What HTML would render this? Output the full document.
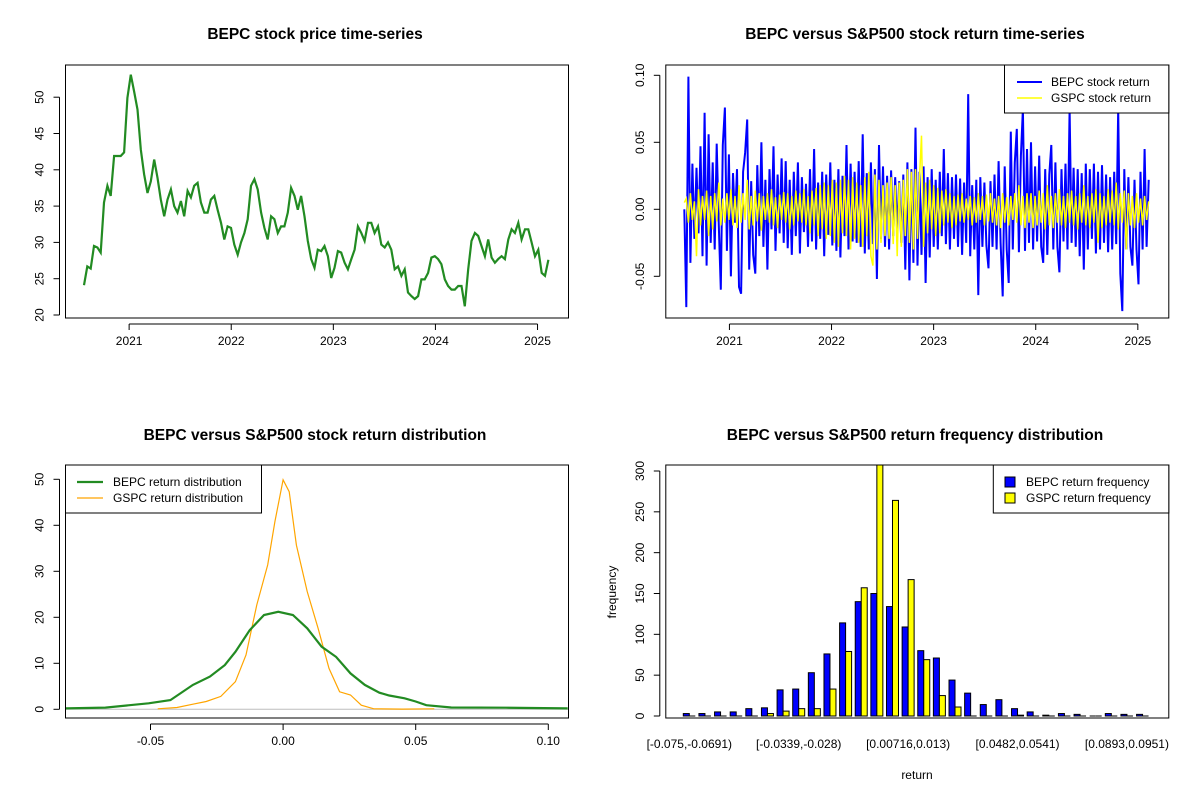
<!DOCTYPE html>
<html><head><meta charset="utf-8"><style>
html,body{margin:0;padding:0;background:#fff;}
svg text{font-family:"Liberation Sans",Arial,sans-serif;fill:#000;}
.t{font-size:15.5px;font-weight:bold;}
.k{font-size:12px;}
</style></head><body>
<svg id="c" width="1200" height="800" xmlns="http://www.w3.org/2000/svg">
<defs>
<clipPath id="cp1"><rect x="65.5" y="65" width="503" height="253"/></clipPath>
<clipPath id="cp2"><rect x="665.8" y="65" width="503" height="253"/></clipPath>
<clipPath id="cp3"><rect x="65.5" y="465" width="503" height="253"/></clipPath>
<clipPath id="cp4"><rect x="665.8" y="465" width="503" height="253"/></clipPath>
</defs>
</svg>
<script>
// ---- Panel 1: price ----
const priceStart = 2020.558, priceEnd = 2025.106;
const prices = [24.1,26.7,26.4,29.5,29.3,28.6,35.5,37.8,36.4,41.9,41.9,41.9,42.4,49.9,53.1,50.8,48.3,42.8,39.4,36.8,38.4,41.4,38.9,35.9,33.6,35.9,37.3,35.0,34.1,35.7,33.6,37.1,36.2,37.8,38.2,35.5,34.1,34.1,35.9,36.4,34.5,32.7,30.4,32.2,32.0,29.7,28.3,30.0,31.3,33.2,37.8,38.7,37.3,34.1,32.0,30.4,33.6,33.2,31.3,32.2,32.2,34.1,37.5,36.4,34.5,36.4,33.6,30.2,27.7,26.5,29.0,28.8,29.5,28.1,25.1,26.5,28.8,28.6,27.2,26.3,27.7,29.0,32.2,31.3,30.2,32.7,32.7,31.3,32.2,29.7,29.3,30.0,29.0,26.3,26.7,25.4,26.3,23.1,22.6,22.2,22.6,24.9,24.9,25.8,27.9,28.1,27.7,27.0,24.9,24.0,23.5,23.5,24.0,24.0,21.2,26.3,30.2,31.3,30.9,29.5,28.1,30.4,27.9,27.2,27.7,28.1,27.7,30.4,31.8,31.3,32.7,30.4,31.8,31.8,30.0,28.1,29.0,25.8,25.4,27.6];
const priceTicks = [20,25,30,35,40,45,50];
const yearTicks = [2021,2022,2023,2024,2025];
// ---- Panel 2: returns ----
const bepcRet = [0.000,-0.073,0.099,-0.040,0.034,-0.022,0.031,-0.018,0.047,-0.035,
0.072,-0.042,0.056,-0.025,0.035,-0.030,0.049,-0.012,-0.060,0.048,
0.076,-0.031,0.041,-0.050,0.027,-0.010,0.030,-0.058,-0.063,0.028,
0.042,0.067,-0.045,0.021,-0.034,-0.048,0.033,-0.020,0.050,-0.028,
0.022,-0.045,0.030,-0.015,0.047,-0.031,0.026,-0.018,0.038,-0.025,
0.036,-0.029,0.022,-0.034,0.028,-0.020,0.035,-0.033,0.024,-0.017,
0.019,-0.028,0.030,-0.024,0.045,-0.030,0.020,-0.022,0.028,-0.035,
0.026,-0.019,0.035,-0.027,0.022,-0.031,0.030,-0.036,0.025,-0.020,
0.048,-0.030,0.034,-0.024,0.028,-0.025,0.036,-0.028,0.056,-0.033,
0.027,-0.030,0.035,-0.026,0.030,-0.052,0.048,-0.022,0.032,-0.028,
0.025,-0.030,0.029,-0.020,0.024,-0.018,0.021,-0.025,0.026,-0.045,
0.035,-0.053,0.030,-0.040,0.061,-0.042,0.028,-0.034,0.032,-0.055,
0.024,-0.036,0.030,-0.028,0.022,-0.030,0.028,-0.020,0.045,-0.026,
0.027,-0.030,0.024,-0.022,0.026,-0.028,0.023,-0.034,0.020,-0.025,
0.086,-0.035,0.018,-0.030,0.022,-0.064,0.024,-0.028,0.020,-0.027,
-0.044,0.021,-0.028,0.026,-0.030,0.036,-0.025,-0.065,0.032,-0.030,
-0.055,0.058,-0.030,0.035,0.060,-0.032,0.040,0.075,-0.031,0.045,
-0.025,0.050,-0.030,0.032,-0.024,0.040,-0.028,-0.040,0.030,-0.034,
0.026,0.048,-0.030,0.035,-0.028,-0.047,0.030,-0.024,0.034,-0.030,
0.075,-0.025,0.031,-0.028,0.030,-0.035,0.027,-0.045,0.034,-0.030,
0.030,-0.022,0.034,-0.033,0.028,-0.030,0.033,-0.025,0.026,-0.032,
0.024,-0.030,0.028,-0.026,0.075,-0.048,-0.076,0.030,-0.030,0.024,
-0.028,-0.042,0.022,-0.030,-0.056,0.028,-0.030,0.045,-0.028,0.022];
const gspcRet = [0.005,0.008,-0.010,0.012,-0.008,0.006,-0.035,0.015,-0.012,0.010,
-0.008,0.014,-0.020,0.010,-0.015,0.012,-0.009,0.020,-0.012,0.008,
-0.010,0.012,-0.008,0.015,-0.012,0.010,-0.014,0.018,-0.010,0.012,
-0.008,0.022,-0.015,0.010,-0.012,0.014,-0.009,0.012,-0.016,0.010,
-0.008,0.012,-0.010,0.015,-0.012,0.009,-0.014,0.011,-0.008,0.013,
-0.010,0.012,-0.015,0.010,-0.012,0.014,-0.009,0.012,-0.010,0.015,
-0.012,0.010,-0.018,0.014,-0.012,0.016,-0.020,0.018,-0.015,0.020,
-0.022,0.018,-0.020,0.022,-0.025,0.020,-0.028,0.022,-0.018,0.025,
-0.020,0.022,-0.030,0.024,-0.022,0.020,-0.025,0.018,-0.028,0.024,
-0.020,0.028,-0.035,-0.042,0.026,-0.030,0.022,-0.025,0.018,-0.020,
0.020,-0.022,0.024,-0.026,0.018,-0.035,0.020,-0.028,0.022,-0.020,
0.030,-0.025,0.028,-0.030,0.030,-0.022,0.024,0.055,-0.028,0.020,
-0.018,0.022,-0.015,0.018,-0.020,0.016,-0.018,0.014,-0.012,0.015,
-0.010,0.012,-0.014,0.010,-0.012,0.011,-0.009,0.012,-0.010,0.008,
-0.008,0.010,-0.012,0.009,-0.010,0.012,-0.008,0.010,-0.012,0.011,
-0.009,0.012,-0.010,0.008,-0.012,0.010,-0.014,0.012,-0.010,0.009,
-0.012,0.010,-0.008,0.012,-0.010,0.018,-0.012,0.010,-0.014,0.012,
-0.010,0.012,-0.014,0.010,-0.012,0.014,-0.010,0.012,-0.015,0.018,
-0.012,0.010,-0.014,0.012,-0.010,0.015,-0.012,0.010,-0.014,0.012,
-0.010,0.014,-0.012,0.010,-0.015,0.012,-0.010,0.018,-0.012,0.010,
-0.014,0.012,-0.010,0.015,-0.025,0.012,-0.014,0.010,-0.012,0.015,
-0.010,0.014,-0.012,0.020,-0.015,0.012,-0.010,0.014,-0.030,0.012,
-0.012,0.010,-0.014,0.012,-0.010,0.008,-0.012,0.010,-0.008,0.006];
const retTicks = [-0.05,0,0.05,0.10];
const retTickLabels = ["-0.05","0.00","0.05","0.10"];
// ---- Panel 3: densities ----
const bepcDensX = [-0.0823,-0.067,-0.0507,-0.0425,-0.034,-0.0276,-0.022,-0.018,-0.0126,-0.0072,-0.0018,0.0037,0.0091,0.0145,0.020,0.0254,0.0308,0.0363,0.040,0.0458,0.050,0.054,0.0634,0.084,0.1073];
const bepcDensY = [0.2,0.36,1.3,2.0,5.3,7.1,9.6,12.5,17.2,20.5,21.2,20.5,17.6,13.6,11.4,7.8,5.3,3.6,3.0,2.4,1.7,0.9,0.4,0.35,0.2];
const gspcDensX = [-0.0473,-0.040,-0.034,-0.029,-0.0235,-0.018,-0.014,-0.0099,-0.0058,-0.0031,0,0.0023,0.005,0.0091,0.0132,0.0173,0.0213,0.0254,0.0295,0.0342,0.045,0.057];
const gspcDensY = [0.1,0.4,1.1,1.7,2.8,6.0,11.8,22.7,31.4,40.8,49.9,47.3,35.7,25.6,17.6,8.9,3.8,3.1,0.9,0.1,0.05,0.1];
const densYTicks = [0,10,20,30,40,50];
const densXTicks = [-0.05,0,0.05,0.10];
const densXLabels = ["-0.05","0.00","0.05","0.10"];
// ---- Panel 4: histogram ----
const binLabels = ["[-0.075,-0.0691)","[-0.0339,-0.028)","[0.00716,0.013)","[0.0482,0.0541)","[0.0893,0.0951)"];
const binLabelIdx = [0,7,14,21,28];
const bepcFreq = [3,3,5,5,9,10,32,33,53,76,114,140,150,134,109,80,71,44,28,14,20,9,5,1,3,2,0,3,2,2];
const gspcFreq = [0,0,0,0,0,3,6,9,9,33,79,157,330,264,167,69,25,11,0,0,0,1,0,0,0,0,0,0,0,0];
const freqTicks = [0,50,100,150,200,250,300];

const NS = "http://www.w3.org/2000/svg";
const svg = document.getElementById('c');
function mk(tag, attrs, parent){const e=document.createElementNS(NS,tag);for(const k in attrs)e.setAttribute(k,attrs[k]);(parent||svg).appendChild(e);return e;}
function txt(s, x, y, cls, rot, anchor){const e=mk('text',{x:x,y:y,'class':cls,'text-anchor':anchor||'middle'});if(rot)e.setAttribute('transform','rotate(-90 '+x+' '+y+')');e.textContent=s;return e;}
function box(x0,y0,x1,y1,name){const r=mk('rect',{x:x0,y:y0,width:x1-x0,height:y1-y0,fill:'none',stroke:'#000','stroke-width':1});}
function yAxis(ticks, labels, fy, xl, name){const g=mk('g',{});
  mk('line',{x1:xl-6,x2:xl-6,y1:fy(ticks[0]),y2:fy(ticks[ticks.length-1]),stroke:'#000'},g);
  ticks.forEach((t,i)=>{const y=fy(t);mk('line',{x1:xl-6,x2:xl-12,y1:y,y2:y,stroke:'#000'},g);
    const e=txt(labels[i],xl-22,y,'k',true);g.appendChild(e);});}
function xAxis(ticks, labels, fx, yb, name){const g=mk('g',{});
  mk('line',{x1:fx(ticks[0]),x2:fx(ticks[ticks.length-1]),y1:yb+6,y2:yb+6,stroke:'#000'},g);
  ticks.forEach((t,i)=>{const x=fx(t);mk('line',{x1:x,x2:x,y1:yb+6,y2:yb+12,stroke:'#000'},g);
    const e=txt(labels[i],x,yb+27,'k');g.appendChild(e);});}

// Panel 1
const x1f = v => 84 + (v-priceStart)*102.1;
const y1f = v => 315 - (v-20)*7.26;
let t1=txt('BEPC stock price time-series',315,39,'t');


let d='';prices.forEach((p,i)=>{const yr=priceStart+i*(priceEnd-priceStart)/(prices.length-1);d+=(i?'L':'M')+x1f(yr).toFixed(1)+' '+y1f(p).toFixed(1);});
let pl=mk('path',{d:d,fill:'none',stroke:'#228B22','stroke-width':2.2,'clip-path':'url(#cp1)'});


box(65.5,65,568.5,318,'price-plot-frame');
yAxis(priceTicks,priceTicks.map(String),y1f,65.5,'price-y-axis');
xAxis(yearTicks,yearTicks.map(String),x1f,318,'price-x-axis');

// Panel 2
const x2f = v => 684.3 + (v-priceStart)*102.1;
const y2f = v => 209.3 - v*1340;
let t2=txt('BEPC versus S&P500 stock return time-series',915,39,'t');


function retPath(arr){let s='';arr.forEach((r,i)=>{const yr=priceStart+i*(priceEnd-priceStart)/(arr.length-1);s+=(i?'L':'M')+x2f(yr).toFixed(1)+' '+y2f(r).toFixed(1);});return s;}
let bl=mk('path',{d:retPath(bepcRet),fill:'none',stroke:'#0000FF','stroke-width':2,'clip-path':'url(#cp2)'});


let yl=mk('path',{d:retPath(gspcRet),fill:'none',stroke:'#FFFF00','stroke-width':1.5,'clip-path':'url(#cp2)'});


box(665.8,65,1168.8,318,'returns-plot-frame');
yAxis(retTicks,retTickLabels,y2f,665.8,'returns-y-axis');
xAxis(yearTicks,yearTicks.map(String),x2f,318,'returns-x-axis');
let lg2=mk('g',{});


mk('rect',{x:1004.5,y:65,width:164.3,height:48,fill:'#fff',stroke:'#000'},lg2);
mk('line',{x1:1017,x2:1042,y1:82,y2:82,stroke:'#0000FF','stroke-width':2},lg2);
mk('line',{x1:1017,x2:1042,y1:98,y2:98,stroke:'#FFFF00','stroke-width':1.5},lg2);
lg2.appendChild(txt('BEPC stock return',1051,86,'k',false,'start'));
lg2.appendChild(txt('GSPC stock return',1051,102,'k',false,'start'));

// Panel 3
const x3f = v => 283.1 + v*2652;
const y3f = v => 709.3 - v*4.6;
let t3=txt('BEPC versus S&P500 stock return distribution',315,440,'t');


let base=mk('line',{x1:65.5,x2:568.5,y1:y3f(0),y2:y3f(0),stroke:'#BEBEBE'});


function densPath(xs,ys){return xs.map((x,i)=>(i?'L':'M')+x3f(x).toFixed(1)+' '+y3f(ys[i]).toFixed(1)).join('');}
let od=mk('path',{d:densPath(gspcDensX,gspcDensY),fill:'none',stroke:'#FFA500','stroke-width':1.2,'clip-path':'url(#cp3)'});


let gd=mk('path',{d:densPath(bepcDensX,bepcDensY),fill:'none',stroke:'#228B22','stroke-width':2.2,'clip-path':'url(#cp3)'});


box(65.5,465,568.5,718,'density-plot-frame');
yAxis(densYTicks,densYTicks.map(String),y3f,65.5,'density-y-axis');
xAxis(densXTicks,densXLabels,x3f,718,'density-x-axis');
let lg3=mk('g',{});


mk('rect',{x:65.5,y:465,width:196,height:48,fill:'#fff',stroke:'#000'},lg3);
mk('line',{x1:77,x2:103,y1:482,y2:482,stroke:'#228B22','stroke-width':2.2},lg3);
mk('line',{x1:77,x2:103,y1:498,y2:498,stroke:'#FFA500','stroke-width':1.2},lg3);
lg3.appendChild(txt('BEPC return distribution',113,486,'k',false,'start'));
lg3.appendChild(txt('GSPC return distribution',113,502,'k',false,'start'));

// Panel 4
const x4f = k => 683.3 + k*15.63;
const y4f = v => 716 - v*0.8167;
let t4=txt('BEPC versus S&P500 return frequency distribution',915,440,'t');


const bg=mk('g',{'clip-path':'url(#cp4)'});
function bar(v,x,fill,name){
  if(v<=0){const l=mk('line',{x1:x,x2:x+6,y1:716,y2:716,stroke:'#000','stroke-width':1},bg);
    
    return;}
  const r=mk('rect',{x:x,y:y4f(v),width:6,height:716-y4f(v),fill:fill,stroke:'#000','stroke-width':1},bg);
  
  }
bepcFreq.forEach((v,k)=>bar(v,x4f(k),'#0000FF','bepc-freq-bar'));
gspcFreq.forEach((v,k)=>bar(v,x4f(k)+6,'#FFFF00','gspc-freq-bar'));
box(665.8,465,1168.8,718,'frequency-plot-frame');
yAxis(freqTicks,freqTicks.map(String),y4f,665.8,'frequency-y-axis');
binLabelIdx.forEach((k,i)=>{const e=txt(binLabels[i],x4f(k)+6,748,'k');

});
let xt=txt('return',917,779,'k');


let ytl=txt('frequency',616,592,'k',true);


let lg4=mk('g',{});


mk('rect',{x:993.3,y:465,width:175.5,height:48,fill:'#fff',stroke:'#000'},lg4);
mk('rect',{x:1005,y:477,width:10,height:10,fill:'#0000FF',stroke:'#000'},lg4);
mk('rect',{x:1005,y:493,width:10,height:10,fill:'#FFFF00',stroke:'#000'},lg4);
lg4.appendChild(txt('BEPC return frequency',1026,486,'k',false,'start'));
lg4.appendChild(txt('GSPC return frequency',1026,502,'k',false,'start'));
</script>
</body></html>
